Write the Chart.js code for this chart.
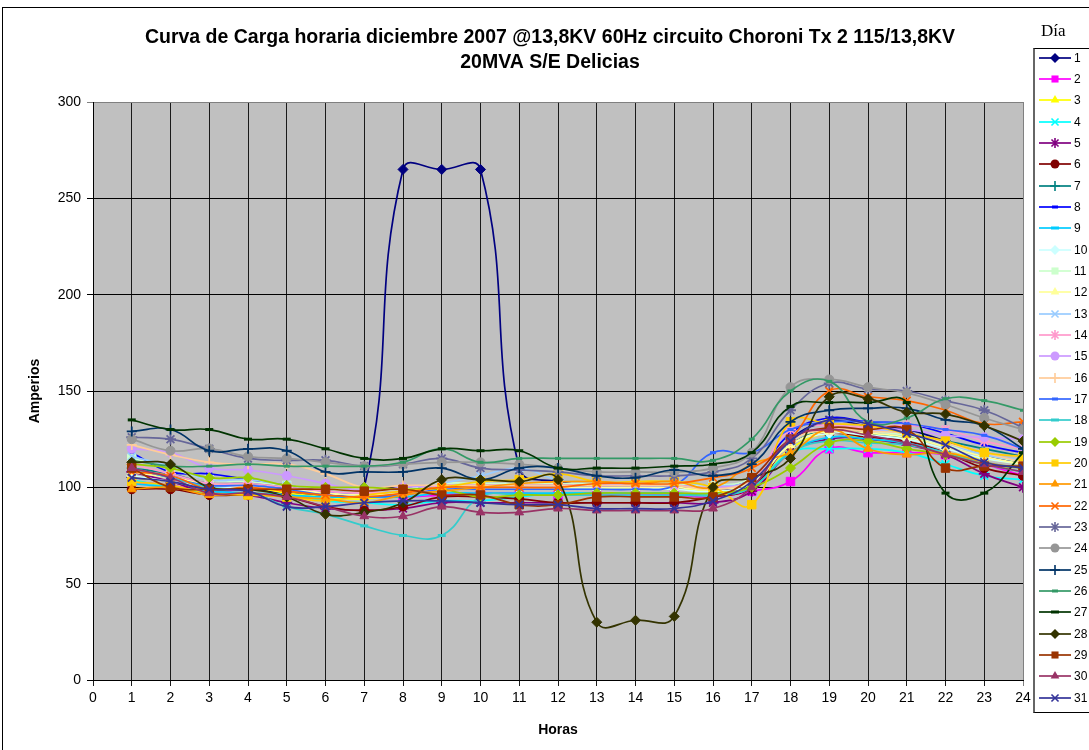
<!DOCTYPE html>
<html>
<head>
<meta charset="utf-8">
<script src="https://cdn.jsdelivr.net/npm/chart.js@4.4.1/dist/chart.umd.min.js"></script>
<style>
  body { margin: 0; background: #fff; }
  #wrap { position: relative; width: 1089px; height: 750px; overflow: hidden; font-family: Arial, "Liberation Sans", sans-serif; }
  #marco { position: absolute; left: 2px; top: 7px; width: 1200px; height: 800px; border-left: 1px solid #000; border-top: 1px solid #000; pointer-events: none; }
  #grafico { position: absolute; left: 0; top: 0; }
  #diaTitulo { position: absolute; left: 1041px; top: 21px; font-family: "Liberation Serif", "Times New Roman", serif; font-size: 17px; }
  #leyenda { position: absolute; left: 1033px; top: 48px; width: 90px; height: 663px; border: 1px solid #000; border-left: 2px solid #666; background: #fff; }
  .item { position: absolute; left: 0; height: 14px; display: flex; align-items: center; font-size: 12px; color: #000; }
  .item canvas { display: block; }
</style>
</head>
<body>
<div id="wrap">
  <canvas id="grafico" width="1089" height="750"></canvas>
  <div id="marco"></div>
  <div id="diaTitulo">Día</div>
  <div id="leyenda"></div>
</div>
<script>
// horas del dia (eje X) y dias del mes (series)
const horas = [1,2,3,4,5,6,7,8,9,10,11,12,13,14,15,16,17,18,19,20,21,22,23,24];
const dias = ['1','2','3','4','5','6','7','8','9','10','11','12','13','14','15','16',
  '17','18','19','20','21','22','23','24','25','26','27','28','29','30','31'];
const ticksY = [0, 50, 100, 150, 200, 250, 300];

// Amperios por hora, un arreglo por dia
const d1  = [105,103,98,99,97,96,100,265,265,265,110,103,101,101,101,99,101,125,134,132,130,124,117,112];
const d2  = [103,101,98,99,99,97,96,95,96,97,97,96,96,96,96,95,98,103,120,118,118,117,112,106];
const d3  = [105,103,98,100,97,95,94,97,100,101,101,102,100,100,100,98,100,120,128,125,122,118,115,112];
const d4  = [104,100,97,97,96,93,92,91,93,93,95,97,97,97,97,96,100,118,120,120,118,112,106,104];
const d5  = [108,103,97,96,92,89,88,89,92,92,92,92,92,92,92,92,98,118,125,125,122,117,107,100];
const d6  = [99,99,96,96,95,90,88,90,95,95,94,92,92,92,92,95,100,122,128,126,124,118,110,106];
const d7  = [110,107,102,102,100,98,97,98,100,100,100,100,100,100,100,100,104,122,130,128,126,124,120,116];
const d8  = [118,108,107,104,101,98,96,98,101,101,101,101,101,101,100,100,105,128,136,134,133,128,122,118];
const d9  = [102,100,98,97,96,95,95,95,97,97,97,97,97,97,97,96,100,118,126,125,123,118,113,110];
const d10 = [106,103,100,100,99,97,96,97,99,99,99,99,99,99,99,98,102,122,128,127,125,120,115,112];
const d11 = [115,110,104,103,101,99,98,99,102,102,102,102,102,102,102,101,105,124,130,129,127,122,117,113];
const d12 = [108,105,102,101,99,97,96,97,100,100,100,100,100,100,100,99,103,122,129,128,126,121,116,112];
const d13 = [116,111,104,104,101,98,97,98,102,106,110,104,103,103,103,101,104,124,131,130,128,123,117,114];
const d14 = [112,107,102,102,100,98,97,98,101,101,101,101,101,101,101,100,104,130,132,131,132,130,124,120];
const d15 = [120,118,110,109,106,102,98,100,101,101,101,101,101,101,101,100,104,125,131,130,130,127,126,125];
const d16 = [122,117,113,112,112,107,100,101,101,101,101,101,101,101,101,99,104,124,130,129,128,123,118,113];
const d17 = [110,105,101,101,99,96,95,96,99,99,99,99,99,99,101,118,118,130,134,134,133,130,127,120];
const d18 = [110,105,100,98,90,86,80,75,75,95,96,96,96,96,96,96,100,118,124,123,122,118,112,108];
const d19 = [112,110,105,105,101,100,100,99,99,95,96,96,97,97,97,97,100,110,123,124,120,117,112,110];
const d20 = [103,101,97,96,95,93,96,98,100,103,104,107,103,103,103,100,91,134,133,132,128,124,118,116];
const d21 = [99,100,96,97,95,94,92,96,98,100,102,103,103,102,103,100,112,118,130,120,117,118,113,110];
const d22 = [108,106,99,100,98,96,95,97,100,100,100,100,102,102,102,105,110,125,150,147,145,140,133,134];
const d23 = [126,125,120,115,114,114,111,112,115,110,109,108,106,106,106,108,115,140,154,151,150,145,140,131];
const d24 = [125,119,120,116,115,113,111,112,113,113,112,110,108,108,108,110,118,152,156,152,149,143,136,130];
const d25 = [129,130,119,120,119,108,108,108,110,104,110,110,106,105,109,106,112,134,140,141,141,135,132,120];
const d26 = [114,111,111,112,111,111,111,113,120,113,115,115,115,115,115,114,125,150,155,134,136,146,145,140];
const d27 = [135,130,130,125,125,120,115,115,120,119,119,110,110,110,111,112,118,142,144,144,144,97,97,118];
const d28 = [113,112,100,99,95,86,87,92,104,104,103,104,30,31,33,100,105,115,147,146,139,138,132,124];
const d29 = [110,100,99,99,99,99,98,99,96,96,91,91,95,95,95,95,105,125,131,130,130,110,111,111];
const d30 = [110,105,97,97,95,90,85,85,90,87,87,89,88,88,88,89,100,125,130,127,123,117,112,108];
const d31 = [105,103,99,98,90,90,92,93,93,92,91,91,89,89,89,93,103,124,135,133,128,122,113,110];

const series = [d1,d2,d3,d4,d5,d6,d7,d8,d9,d10,d11,d12,d13,d14,d15,d16,d17,d18,d19,d20,
  d21,d22,d23,d24,d25,d26,d27,d28,d29,d30,d31];

// colores de linea por defecto (Excel 2003)
const colores = ['#000080','#FF00FF','#FFFF00','#00FFFF','#800080','#800000','#008080','#0000FF',
  '#00CCFF','#CCFFFF','#CCFFCC','#FFFF99','#99CCFF','#FF99CC','#CC99FF','#FFCC99','#3366FF',
  '#33CCCC','#99CC00','#FFCC00','#FF9900','#FF6600','#666699','#969696','#003366','#339966',
  '#003300','#333300','#993300','#993366','#333399'];

// marcadores: se repiten cada 9 series
const marcadores = ['rectRot','rect','triangle','crossRot','star','circle','cross','line','line'];
const radios     = [5, 6, 5, 5.5, 5.5, 4.5, 5, 3, 4];

const datasets = series.map((vals, i) => {
  const m = i % 9;
  return {
    label: dias[i],
    data: horas.map((h, j) => ({ x: h, y: vals[j] })),
    borderColor: colores[i],
    backgroundColor: colores[i],
    pointStyle: marcadores[m],
    pointRadius: radios[m],
    pointBorderWidth: m >= 7 ? 3 : (m == 3 || m == 4 || m == 6 ? 1.8 : 1),
    borderWidth: 1.7,
    tension: 0.45,
    order: 30 - i
  };
});

const fondoPlot = {
  id: 'fondoPlot',
  beforeDraw(chart) {
    const { ctx, chartArea: a } = chart;
    ctx.save();
    ctx.fillStyle = '#fff';
    ctx.fillRect(0, 0, chart.width, chart.height);
    ctx.fillStyle = '#C0C0C0';
    ctx.fillRect(a.left, a.top, a.right - a.left, a.bottom - a.top);
    // titulo en dos lineas
    ctx.fillStyle = '#000';
    ctx.font = 'bold 19.5px Arial, "Liberation Sans", sans-serif';
    ctx.textAlign = 'center';
    ctx.textBaseline = 'middle';
    ctx.fillText('Curva de Carga horaria diciembre 2007 @13,8KV 60Hz circuito Choroni Tx 2 115/13,8KV', 550, 38);
    ctx.fillText('20MVA S/E Delicias', 550, 63);
    ctx.restore();
  }
};

new Chart(document.getElementById('grafico'), {
  type: 'line',
  data: { datasets },
  plugins: [fondoPlot],
  options: {
    responsive: false,
    animation: false,
    layout: { padding: { left: 0, top: 102, right: 66, bottom: 0 } },
    plugins: { legend: { display: false }, tooltip: { enabled: false } },
    scales: {
      x: {
        type: 'linear', min: 0, max: 24,
        afterFit(s) { s.height = 70; },
        ticks: { stepSize: 1, color: '#000', padding: 4, font: { size: 14, family: 'Arial' } },
        grid: {
          color: c => (c.tick && c.tick.value === 24) ? '#808080' : '#1a1a1a',
          lineWidth: 1, tickLength: 6
        },
        border: { color: '#000', width: 1 },
        title: { display: true, text: 'Horas', color: '#000', font: { size: 14, weight: 'bold', family: 'Arial' }, padding: { top: 0, bottom: 11 } }
      },
      y: {
        min: 0, max: 300,
        afterFit(s) { s.width = 93; },
        afterBuildTicks(s) { s.ticks = ticksY.map(v => ({ value: v })); },
        ticks: { color: '#000', padding: 6, font: { size: 14, family: 'Arial' } },
        grid: {
          color: c => (c.tick && c.tick.value === 300) ? '#808080' : '#000',
          lineWidth: 1, tickLength: 6
        },
        border: { color: '#000', width: 1 },
        title: { display: true, text: 'Amperios', color: '#000', font: { size: 14, weight: 'bold', family: 'Arial' }, padding: { top: 27, bottom: 0 } }
      }
    }
  }
});

// leyenda HTML con la muestra de linea y marcador
function dibujarMarcador(ctx, estilo, x, y, r, color) {
  ctx.fillStyle = color;
  ctx.strokeStyle = color;
  ctx.beginPath();
  const s = r * Math.SQRT1_2;
  switch (estilo) {
    case 'rectRot':
      ctx.moveTo(x, y - r); ctx.lineTo(x + r, y); ctx.lineTo(x, y + r); ctx.lineTo(x - r, y);
      ctx.closePath(); ctx.fill(); break;
    case 'rect':
      ctx.fillRect(x - s, y - s, 2 * s, 2 * s); break;
    case 'triangle':
      ctx.moveTo(x, y - r); ctx.lineTo(x + r * 0.87, y + r * 0.5); ctx.lineTo(x - r * 0.87, y + r * 0.5);
      ctx.closePath(); ctx.fill(); break;
    case 'circle':
      ctx.arc(x, y, r, 0, Math.PI * 2); ctx.fill(); break;
    case 'crossRot':
      ctx.lineWidth = 1.6;
      ctx.moveTo(x - s, y - s); ctx.lineTo(x + s, y + s); ctx.moveTo(x + s, y - s); ctx.lineTo(x - s, y + s);
      ctx.stroke(); break;
    case 'star':
      ctx.lineWidth = 1.6;
      ctx.moveTo(x - s, y - s); ctx.lineTo(x + s, y + s); ctx.moveTo(x + s, y - s); ctx.lineTo(x - s, y + s);
      ctx.moveTo(x, y - r); ctx.lineTo(x, y + r);
      ctx.stroke(); break;
    case 'cross':
      ctx.lineWidth = 1.6;
      ctx.moveTo(x, y - r); ctx.lineTo(x, y + r); ctx.moveTo(x - r, y); ctx.lineTo(x + r, y);
      ctx.stroke(); break;
    case 'line':
      ctx.lineWidth = 3;
      ctx.moveTo(x - r, y); ctx.lineTo(x + r, y);
      ctx.stroke(); break;
  }
}

const leyenda = document.getElementById('leyenda');
dias.forEach((d, i) => {
  const fila = document.createElement('div');
  fila.className = 'item';
  fila.style.top = (8.7 + i * 21.33 - 7) + 'px';
  const c = document.createElement('canvas');
  c.width = 38; c.height = 14;
  const ctx = c.getContext('2d');
  ctx.strokeStyle = colores[i];
  ctx.lineWidth = 1.7;
  ctx.beginPath(); ctx.moveTo(4, 7); ctx.lineTo(36, 7); ctx.stroke();
  const m = i % 9;
  dibujarMarcador(ctx, marcadores[m], 20, 7, Math.min(radios[m], 5), colores[i]);
  const t = document.createElement('span');
  t.textContent = d;
  t.style.marginLeft = '1px';
  fila.appendChild(c);
  fila.appendChild(t);
  leyenda.appendChild(fila);
});
</script>
</body>
</html>
